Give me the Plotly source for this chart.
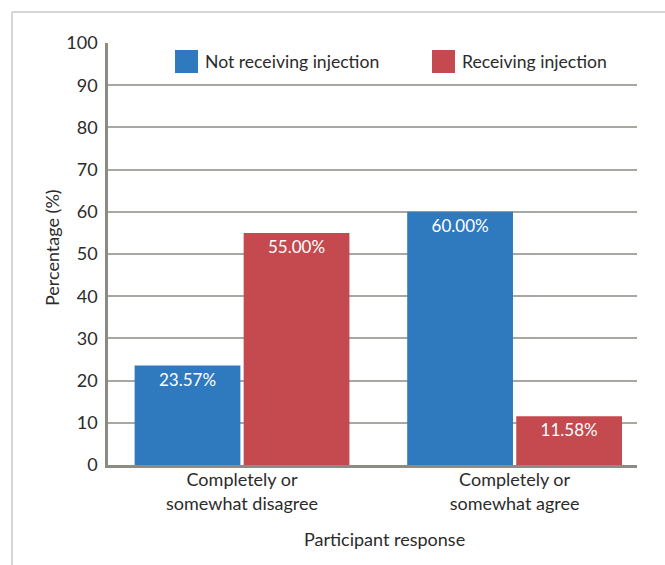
import plotly.graph_objects as go

# Survey responses by injection status
categories = ["Completely or<br>somewhat disagree", "Completely or<br>somewhat agree"]
series_names = ["Not receiving injection", "Receiving injection"]
not_receiving = [23.57, 60.00]
receiving = [55.00, 11.58]
y_ticks = [0, 10, 20, 30, 40, 50, 60, 70, 80, 90, 100]

BLUE = "#2F79BF"
RED = "#C44A4F"
FONT = "Lato"
TEXT = "#2b2b2b"

W, H = 665, 565
L, R, T, B = 108, 28, 43, 100
PW, PH = W - L - R, H - T - B


def px_x(p):
    return (p - L) / PW


def px_y(p):
    return (H - B - p) / PH


fig = go.Figure()
for name, vals, col in [(series_names[0], not_receiving, BLUE),
                        (series_names[1], receiving, RED)]:
    fig.add_trace(go.Bar(
        x=categories, y=vals, name=name, marker=dict(color=col, line=dict(width=0)),
        text=[f"{v:.2f}%" for v in vals], textposition="inside",
        insidetextanchor="end", textangle=0,
        textfont=dict(family=FONT, size=17, color="white"),
        showlegend=False,
    ))

# Frame around the chart
frame = dict(color="#c9c9c9", width=1.5)
fig.add_shape(type="line", xref="paper", yref="paper",
              x0=px_x(12), x1=px_x(700), y0=px_y(12), y1=px_y(12), line=frame)
fig.add_shape(type="line", xref="paper", yref="paper",
              x0=px_x(12), x1=px_x(12), y0=px_y(12), y1=px_y(600), line=frame)

# Legend drawn as swatches with labels
legend_items = [(series_names[0], BLUE, 175), (series_names[1], RED, 432)]
for name, col, x0 in legend_items:
    fig.add_shape(type="rect", xref="paper", yref="paper",
                  x0=px_x(x0), x1=px_x(x0 + 23), y0=px_y(73), y1=px_y(50),
                  fillcolor=col, line=dict(width=0))
    fig.add_annotation(xref="paper", yref="paper", x=px_x(x0 + 28), y=px_y(62),
                       text=name, showarrow=False, xanchor="left", yanchor="middle",
                       font=dict(family=FONT, size=17.6, color=TEXT))

# Axis titles
fig.add_annotation(xref="paper", yref="paper", x=px_x(384), y=px_y(539),
                   text="Participant response", showarrow=False,
                   xanchor="center", yanchor="middle",
                   font=dict(family=FONT, size=18, color=TEXT))
fig.add_annotation(xref="paper", yref="paper", x=px_x(52), y=px_y(248),
                   text="Percentage (%)", showarrow=False, textangle=-90,
                   xanchor="center", yanchor="middle",
                   font=dict(family=FONT, size=18, color=TEXT))

fig.update_layout(
    width=W, height=H, margin=dict(l=L, r=R, t=T, b=B),
    paper_bgcolor="white", plot_bgcolor="white",
    barmode="group", bargap=0.2, bargroupgap=0.03,
    font=dict(family=FONT, color=TEXT),
)
fig.update_xaxes(
    range=[-0.4917, 1.449], ticklabelstandoff=-3,
    showline=True, linecolor="#8c8c84", linewidth=2.5,
    tickfont=dict(family=FONT, size=18, color=TEXT), ticks="",
    showgrid=False,
)
fig.update_yaxes(
    range=[0, 100], tickvals=y_ticks, ticks="", ticklabelstandoff=4,
    showline=True, linecolor="#8c8c84", linewidth=2.5,
    showgrid=True, gridcolor="#a8a8a2", gridwidth=1.5,
    tickfont=dict(family=FONT, size=18, color=TEXT),
    zeroline=False,
)

fig.write_html("out.html")
